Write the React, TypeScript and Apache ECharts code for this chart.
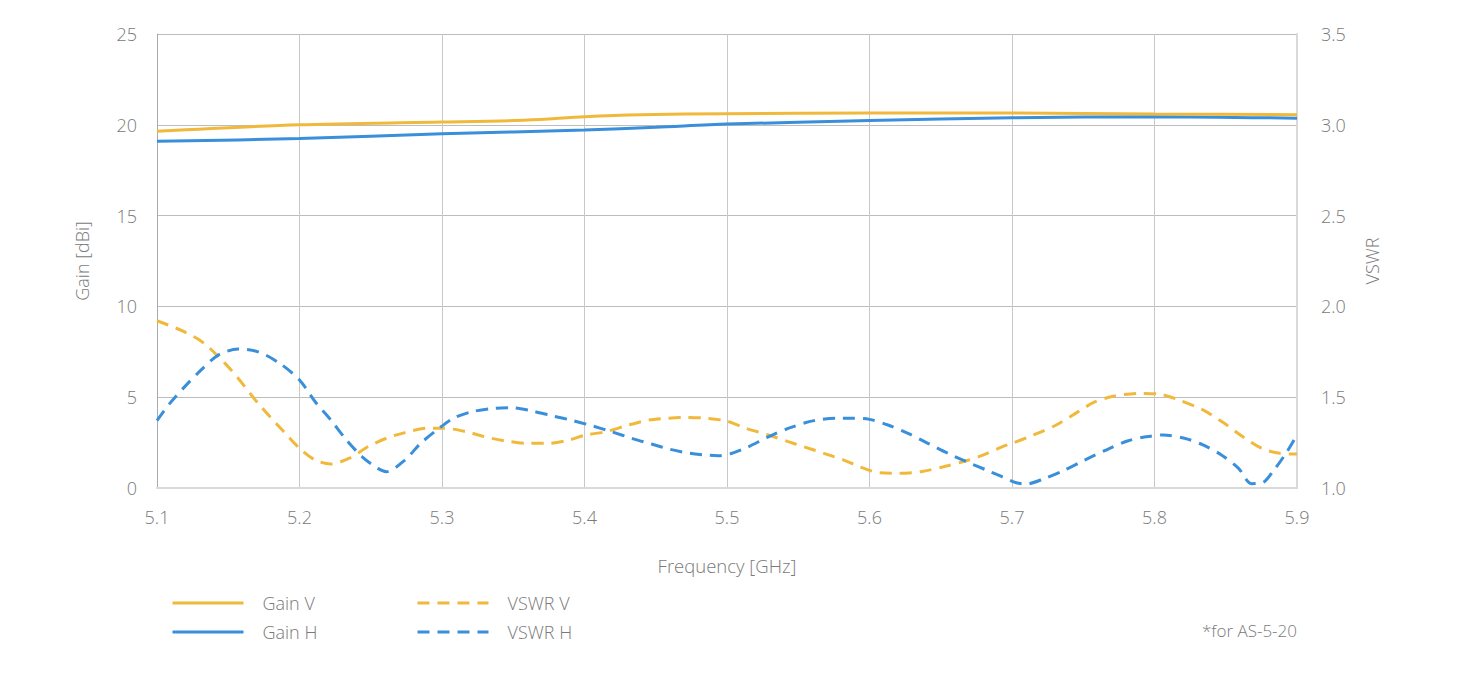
import React, { useEffect, useRef } from "react";
import * as echarts from "echarts";

const freqTicks = ["5.1", "5.2", "5.3", "5.4", "5.5", "5.6", "5.7", "5.8", "5.9"];

const gainVFreq = [5.1, 5.2, 5.3, 5.36, 5.4, 5.44, 5.5, 5.6, 5.7, 5.8, 5.9];
const gainV = [19.64, 20.0, 20.15, 20.26, 20.45, 20.56, 20.61, 20.65, 20.65, 20.59, 20.56];

const gainHFreq = [5.1, 5.2, 5.3, 5.4, 5.45, 5.5, 5.6, 5.7, 5.8, 5.9];
const gainH = [19.09, 19.24, 19.51, 19.71, 19.86, 20.04, 20.23, 20.39, 20.45, 20.36];

const vswrVFreq = [
  5.1, 5.119, 5.133, 5.152, 5.171, 5.19, 5.2, 5.211, 5.222, 5.235, 5.248, 5.261, 5.274, 5.29,
  5.301, 5.317, 5.33, 5.344, 5.36, 5.374, 5.387, 5.401, 5.415, 5.431, 5.445, 5.458, 5.47, 5.486,
  5.5, 5.513, 5.529, 5.543, 5.554, 5.568, 5.582, 5.593, 5.607, 5.62, 5.636, 5.652, 5.668, 5.68,
  5.693, 5.7, 5.715, 5.731, 5.746, 5.758, 5.771, 5.789, 5.804, 5.816, 5.834, 5.849, 5.862, 5.875,
  5.888, 5.9,
];
const vswrV = [
  1.921, 1.861, 1.797, 1.65, 1.466, 1.301, 1.219, 1.154, 1.132, 1.164, 1.227, 1.274, 1.305, 1.329,
  1.329, 1.31, 1.282, 1.26, 1.246, 1.246, 1.26, 1.292, 1.31, 1.347, 1.374, 1.384, 1.389, 1.384,
  1.368, 1.329, 1.292, 1.255, 1.227, 1.191, 1.154, 1.117, 1.084, 1.081, 1.09, 1.117, 1.15, 1.182,
  1.227, 1.246, 1.292, 1.347, 1.418, 1.474, 1.505, 1.521, 1.516, 1.488, 1.43, 1.356, 1.282, 1.219,
  1.191, 1.187,
];

const vswrHFreq = [
  5.1, 5.109, 5.119, 5.131, 5.143, 5.157, 5.171, 5.186, 5.2, 5.211, 5.222, 5.233, 5.244, 5.255,
  5.261, 5.274, 5.285, 5.298, 5.308, 5.321, 5.337, 5.349, 5.362, 5.378, 5.392, 5.406, 5.419, 5.433,
  5.447, 5.46, 5.474, 5.488, 5.494, 5.503, 5.515, 5.529, 5.545, 5.561, 5.577, 5.588, 5.6, 5.613,
  5.627, 5.641, 5.655, 5.668, 5.682, 5.693, 5.703, 5.71, 5.723, 5.736, 5.751, 5.766, 5.781, 5.794,
  5.806, 5.821, 5.834, 5.847, 5.859, 5.868, 5.876, 5.883, 5.893, 5.9,
];
const vswrH = [
  1.371, 1.466, 1.554, 1.65, 1.732, 1.765, 1.75, 1.687, 1.595, 1.475, 1.374, 1.264, 1.172, 1.108,
  1.09, 1.154, 1.246, 1.329, 1.384, 1.42, 1.439, 1.442, 1.426, 1.396, 1.371, 1.341, 1.31, 1.274,
  1.242, 1.213, 1.191, 1.18, 1.178, 1.19, 1.227, 1.282, 1.334, 1.371, 1.384, 1.384, 1.378, 1.347,
  1.301, 1.246, 1.191, 1.145, 1.099, 1.062, 1.029, 1.022, 1.053, 1.095, 1.154, 1.209, 1.259, 1.282,
  1.292, 1.274, 1.237, 1.182, 1.108, 1.024, 1.03, 1.09, 1.2, 1.292,
];

const YELLOW = "#F1B93C";
const BLUE = "#3A8FDB";
const TEXT = "#7a7a7a";
const FONT = "'Open Sans', 'Noto Sans', sans-serif";

const zip = (xs: number[], ys: number[]) => xs.map((x, i) => [x, ys[i]]);

export default function App() {
  const ref = useRef<HTMLDivElement>(null);

  useEffect(() => {
    if (!ref.current) return;
    const chart = echarts.init(ref.current, undefined, { renderer: "svg" });
    const textStyle = { fontFamily: FONT, fontSize: 18, color: TEXT, fontWeight: 300 as any };
    const legendCommon = {
      orient: "vertical" as const,
      padding: 0,
      itemWidth: 71,
      itemHeight: 14,
      itemGap: 11,
      itemStyle: { opacity: 0 },
      lineStyle: { width: 3 },
      textStyle: { ...textStyle, padding: [0, 0, 0, 14] },
    };
    chart.setOption({
      animation: false,
      textStyle: { fontFamily: FONT },
      grid: { left: 157, right: 165, top: 34, bottom: 190, containLabel: false },
      legend: [
        { ...legendCommon, left: 171, top: 594, data: ["Gain V", "Gain H"] },
        { ...legendCommon, left: 416, top: 594, data: ["VSWR V", "VSWR H"] },
      ],
      xAxis: {
        type: "value",
        min: 5.1,
        max: 5.9,
        interval: 0.1,
        name: "Frequency [GHz]",
        nameLocation: "middle",
        nameGap: 68,
        nameTextStyle: { ...textStyle, fontSize: 18.5 },
        axisLine: { show: true, lineStyle: { color: "#d9d9d9", width: 2 } },
        axisTick: { show: false },
        axisLabel: {
          ...textStyle,
          margin: 20,
          formatter: (v: number) => {
            const s = v.toFixed(1);
            return freqTicks.includes(s) ? s : "";
          },
        },
        splitLine: { show: true, lineStyle: { color: "#c8c8c8", width: 1 } },
      },
      yAxis: [
        {
          type: "value",
          min: 0,
          max: 25,
          interval: 5,
          name: "Gain [dBi]",
          nameLocation: "middle",
          nameRotate: 90,
          nameGap: 66,
          nameTextStyle: textStyle,
          axisLine: { show: true, lineStyle: { color: "#aaaaaa", width: 1 } },
          axisTick: { show: false },
          axisLabel: { ...textStyle, margin: 20 },
          splitLine: { show: true, lineStyle: { color: "#bdbdbd", width: 1 } },
        },
        {
          type: "value",
          min: 1,
          max: 3.5,
          interval: 0.5,
          position: "right",
          name: "VSWR",
          nameLocation: "middle",
          nameRotate: 90,
          nameGap: 66,
          nameTextStyle: textStyle,
          axisLine: { show: true, lineStyle: { color: "#d9d9d9", width: 2 } },
          axisTick: { show: false },
          axisLabel: { ...textStyle, margin: 24, formatter: (v: number) => v.toFixed(1) },
          splitLine: { show: false },
        },
      ],
      graphic: [
        {
          type: "text",
          right: 165,
          top: 622,
          style: { text: "*for AS-5-20", fill: TEXT, font: `300 17px ${FONT}` },
        },
      ],
      series: [
        {
          name: "Gain V",
          type: "line",
          yAxisIndex: 0,
          data: zip(gainVFreq, gainV),
          smooth: 0.3,
          symbol: "none",
          lineStyle: { color: YELLOW, width: 3 },
          itemStyle: { color: YELLOW },
          z: 4,
        },
        {
          name: "Gain H",
          type: "line",
          yAxisIndex: 0,
          data: zip(gainHFreq, gainH),
          smooth: 0.3,
          symbol: "none",
          lineStyle: { color: BLUE, width: 3 },
          itemStyle: { color: BLUE },
          z: 3,
        },
        {
          name: "VSWR V",
          type: "line",
          yAxisIndex: 1,
          data: zip(vswrVFreq, vswrV),
          smooth: 0.3,
          symbol: "none",
          lineStyle: { color: YELLOW, width: 3, type: [12, 8] },
          itemStyle: { color: YELLOW },
          z: 3,
        },
        {
          name: "VSWR H",
          type: "line",
          yAxisIndex: 1,
          data: zip(vswrHFreq, vswrH),
          smooth: 0.3,
          symbol: "none",
          lineStyle: { color: BLUE, width: 3, type: [12, 8] },
          itemStyle: { color: BLUE },
          z: 4,
        },
      ],
    });
    return () => chart.dispose();
  }, []);

  return (
    <div
      ref={ref}
      style={{ position: "absolute", left: 0, top: 0, width: 1462, height: 678, background: "#fff" }}
    />
  );
}
